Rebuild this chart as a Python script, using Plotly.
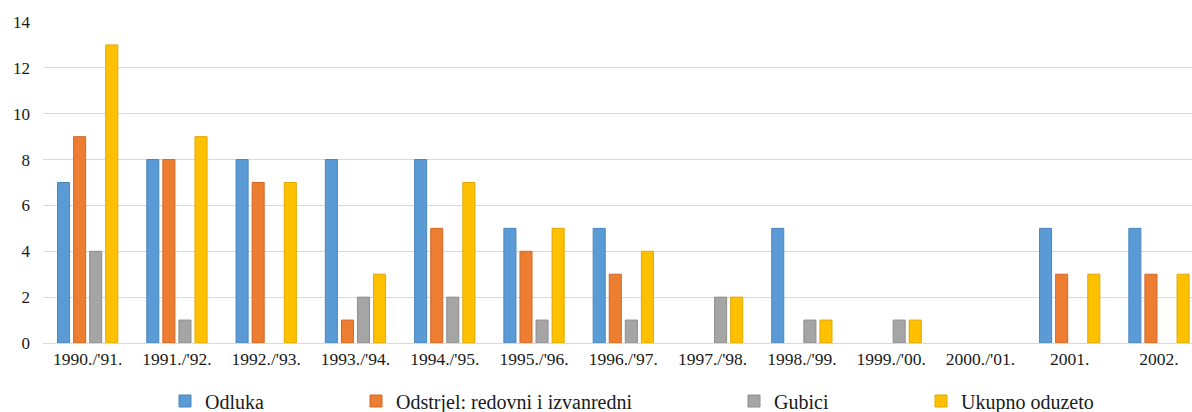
import plotly.graph_objects as go

categories = ["1990./'91.", "1991./'92.", "1992./'93.", "1993./'94.", "1994./'95.",
              "1995./'96.", "1996./'97.", "1997./'98.", "1998./'99.", "1999./'00.",
              "2000./'01.", "2001.", "2002."]
odluka = [7, 8, 8, 8, 8, 5, 5, 0, 5, 0, 0, 5, 5]
odstrjel = [9, 8, 7, 1, 5, 4, 3, 0, 0, 0, 0, 3, 3]
gubici = [4, 1, 0, 2, 2, 1, 1, 2, 1, 1, 0, 0, 0]
ukupno = [13, 9, 7, 3, 7, 5, 4, 2, 1, 1, 0, 3, 3]
y_ticks = [0, 2, 4, 6, 8, 10, 12, 14]

series = [
    ("Odluka", odluka, "#5B9BD5", "#4A86BE", "legend"),
    ("Odstrjel: redovni i izvanredni", odstrjel, "#ED7D31", "#D0682A", "legend2"),
    ("Gubici", gubici, "#A5A5A5", "#8E8E8E", "legend3"),
    ("Ukupno oduzeto", ukupno, "#FFC000", "#E0A800", "legend4"),
]

W, H = 1192, 412
L, R, T = 43, 0, 22
Y0 = 343                 # pixel row of y = 0
B = H - Y0
pw = W - L - R
ph = Y0 - T

fig = go.Figure()
for name, vals, col, lcol, lg in series:
    fig.add_trace(go.Bar(
        x=list(range(len(categories))),
        y=[v if v != 0 else None for v in vals],
        name=name,
        marker=dict(color=col, line=dict(color=lcol, width=1)),
        legend=lg,
    ))

font = "'Liberation Serif', 'DejaVu Serif', serif"

def leg(text_px):
    return dict(
        x=(text_px - 40 - L) / pw, xanchor="left",
        y=(Y0 - 401) / ph, yanchor="middle",
        orientation="h", font=dict(family=font, size=20, color="#1a1a1a"),
        bgcolor="rgba(0,0,0,0)", itemwidth=30,
    )

fig.update_layout(
    width=W, height=H,
    margin=dict(l=L, r=R, t=T, b=B, autoexpand=False),
    paper_bgcolor="white", plot_bgcolor="white",
    font=dict(family=font),
    barmode="group", bargap=0.28, bargroupgap=0.25,
    showlegend=True,
    legend=leg(205), legend2=leg(396), legend3=leg(774), legend4=leg(961),
    xaxis=dict(
        tickmode="array", tickvals=list(range(len(categories))), ticktext=categories,
        range=[-0.5, 12.37], showgrid=False, zeroline=False, automargin=False,
        showline=True, linecolor="#d9d9d9", linewidth=1,
        tickfont=dict(family=font, size=17.5, color="#1a1a1a"), ticks="",
    ),
    yaxis=dict(
        range=[0, 14], tickvals=y_ticks, showgrid=True, gridcolor="#d9d9d9",
        gridwidth=1, zeroline=False, showline=False, automargin=False,
        tickfont=dict(family=font, size=17, color="#1a1a1a"), ticks="",
        ticklabelstandoff=12,
    ),
)

# remove the browser's default 8px body margin so the figure fills the window exactly
fig.write_html(
    "out.html",
    config={"displayModeBar": False},
    post_script="document.body.style.margin='0';document.body.style.overflow='hidden';",
)
